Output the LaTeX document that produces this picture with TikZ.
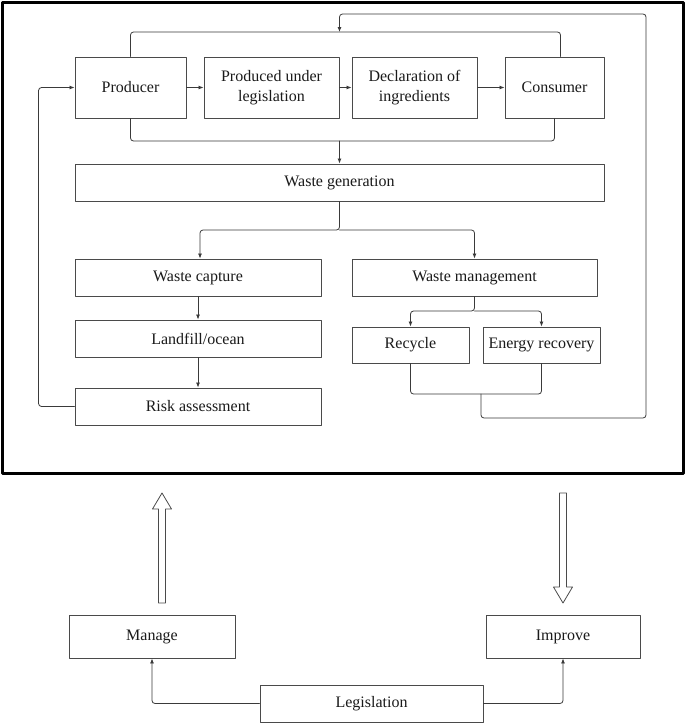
\documentclass[tikz,border=0pt]{standalone}
\usepackage{fontspec}
\setmainfont{Liberation Serif}
\usetikzlibrary{arrows.meta}

\definecolor{edge}{HTML}{3a3a3a}
\definecolor{boxline}{HTML}{4a4a4a}
\definecolor{ink}{HTML}{1a1a1a}

\begin{document}
\begin{tikzpicture}[
  x=1pt, y=-1pt,
  line cap=round, line join=round,
  every node/.style={font=\fontsize{16}{19.5}\selectfont, text=ink, inner sep=1pt},
  box/.style={draw=boxline, line width=0.9pt, align=center, minimum height=37pt},
  tall/.style={box, minimum height=61pt},
  link/.style={draw=edge, line width=0.8pt, rounded corners=3pt, >={Latex[length=5pt,width=4pt]}},
  frame/.style={draw=black, line width=3pt},
  hollow/.style={draw=boxline, line width=0.8pt, fill=white},
]
\useasboundingbox[fill=white] (0,0) rectangle (685,723);
\draw[frame] (2,2) rectangle (683,473);

% top row
\node[tall, minimum width=111pt] (producer) at (130.5,87.5) {Producer};
\node[tall, minimum width=135pt] (underlaw) at (271.5,87.5) {Produced under\\legislation};
\node[tall, minimum width=125pt] (declare) at (414.5,87.5) {Declaration of\\ingredients};
\node[tall, minimum width=99pt] (consumer) at (554.5,87.5) {Consumer};
\node[box, minimum width=529pt] (wastegen) at (339.5,182.5) {Waste generation};

% left branch
\node[box, minimum width=246pt] (capture) at (198,277.5) {Waste capture};
\node[box, minimum width=246pt] (landfill) at (198,338.5) {Landfill/ocean};
\node[box, minimum width=246pt] (risk) at (198,406.5) {Risk assessment};

% right branch
\node[box, minimum width=245pt] (wastemgmt) at (474.5,277.5) {Waste management};
\node[box, minimum width=117pt, minimum height=36pt] (recycle) at (410.5,345) {Recycle};
\node[box, minimum width=117pt, minimum height=36pt] (energy) at (541.5,345) {Energy recovery};

% bottom
\node[box, minimum width=166pt, minimum height=43pt] (manage) at (152,636.5) {Manage};
\node[box, minimum width=154pt, minimum height=43pt] (improve) at (563,636.5) {Improve};
\node[box, minimum width=223pt] (legislation) at (371.5,703.5) {Legislation};

\coordinate (topjoin) at (339.5,32);
\coordinate (midjoin) at (339.5,141);
\coordinate (gensplit) at (339.5,230);
\coordinate (mgmtsplit) at (474.5,311);
\coordinate (botmerge) at (481,394);
\coordinate (outerturn) at (646,14);

\draw[link,->] (producer) -- (underlaw);
\draw[link,->] (underlaw) -- (declare);
\draw[link,->] (declare) -- (consumer);
\draw[link] (producer.north) |- (topjoin) -| ([xshift=6pt]consumer.north);
\draw[link] (producer.south) |- (midjoin) -| (consumer.south);
\draw[link,->] (midjoin) -- (wastegen.north);
\draw[link,->] (wastegen.south) -- (gensplit) -| ([xshift=2pt]capture.north);
\draw[link,->] (gensplit) -| (wastemgmt.north);
\draw[link,->] (capture) -- (landfill);
\draw[link,->] (landfill) -- (risk);
\draw[link,->] (risk.west) -- ++(-36,0) |- (producer.west);
\draw[link,->] (wastemgmt.south) -- (mgmtsplit) -| (recycle.north);
\draw[link,->] (mgmtsplit) -| (energy.north);
\draw[link] (recycle.south) |- (botmerge) -| (energy.south);
\draw[link,->] (botmerge) -- ++(0,24) -| (outerturn) -| (topjoin);

% hollow arrows
\draw[hollow] (158.5,603) -- (158.5,509) -- (152.5,509) -- (162,493) -- (171.5,509) -- (165.5,509) -- (165.5,603) -- cycle;
\draw[hollow] (559.5,493) -- (559.5,587) -- (553.5,587) -- (563,603) -- (572.5,587) -- (566.5,587) -- (566.5,493) -- cycle;

\draw[link,->] (legislation.west) -| (manage.south);
\draw[link,->] (legislation.east) -| (improve.south);
\end{tikzpicture}
\end{document}
